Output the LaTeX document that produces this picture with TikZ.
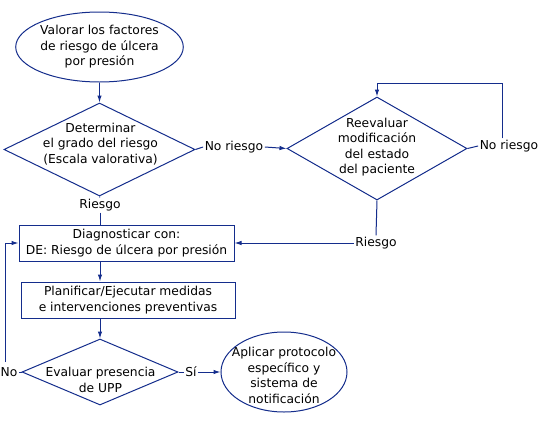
\documentclass[tikz,border=0pt]{standalone}
\usepackage{fontspec}
\setmainfont{DejaVu Sans}
\usetikzlibrary{shapes.geometric,arrows.meta}
\definecolor{navy}{RGB}{20,45,140}
\tikzset{
  every node/.style={font=\fontsize{12.3}{15.5}\selectfont, align=center, inner sep=0pt},
  line/.style={draw=navy, line width=1pt},
  arr/.style={line, -{Latex[length=7pt,width=4.5pt]}},
  oval/.style={ellipse, line},
  rombo/.style={diamond, line},
  caja/.style={rectangle, line},
  lbl/.style={inner sep=1.5pt}
}
\begin{document}
\begin{tikzpicture}[x=1pt,y=-1pt]
\useasboundingbox[fill=white] (0,0) rectangle (550,424);
% shapes
\node[oval, minimum width=161pt, minimum height=70pt] (e1) at (99.5,47) {Valorar los factores\\de riesgo de úlcera\\por presión};
\node[rombo, minimum width=191pt, minimum height=93pt] (d1) at (99.5,149.5) {};
\node (t1) at (100.5,144) {Determinar\\el grado del riesgo\\(Escala valorativa)};
\node[rombo, minimum width=180pt, minimum height=103pt] (d2) at (377,148.5) {};
\node (t2) at (377,147) {Reevaluar\\modificación\\del estado\\del paciente};
\node[caja, minimum width=215pt, minimum height=36pt] (r1) at (126.5,243) {Diagnosticar con:\\DE: Riesgo de úlcera por presión};
\node[caja, minimum width=214pt, minimum height=36pt] (r2) at (128,300) {Planificar/Ejecutar medidas\\e intervenciones preventivas};
\node[rombo, minimum width=156pt, minimum height=66pt] (d3) at (100,372) {};
\node (t3) at (100.5,380) {Evaluar presencia\\de UPP};
\node[oval, minimum width=126pt, minimum height=80pt] (e2) at (284,372) {};
\node (t4) at (284,375.5) {Aplicar protocolo\\específico y\\sistema de\\notificación};
% labels
\node[lbl] (lnr1) at (234,147) {No riesgo};
\node[lbl] (lr1) at (100,205) {Riesgo};
\node[lbl] (lnr2) at (509,146) {No riesgo};
\node[lbl] (lr2) at (376,243) {Riesgo};
\node[lbl] (lno) at (9,372) {No};
\node[lbl] (lsi) at (191,372) {Sí};
% helper coordinates
\coordinate (cloop) at (502,83);
\coordinate (cno) at (5,362);
\coordinate (xa) at (100,0);
% connectors
\draw[arr] (e1) -- (d1);
\draw[line] (d1.east) -- (lnr1.west);
\draw[arr] (lnr1.east) -- (d2.west);
\draw[line] (d1.south) -- (lr1.north);
\draw[line] (lr1.south) -- (lr1.south |- r1.north);
\draw[line] (d2.east) -- (lnr2.west);
\draw[arr] (lnr2.north -| cloop) -- (cloop) -| (d2.north);
\draw[line] (d2.south) -- (lr2.north);
\draw[arr] (lr2.west) -- (r1.east);
\draw[arr] (r1.south -| xa) -- (r2.north -| xa);
\draw[arr] (r2.south -| xa) -- (d3.north);
\draw[line] (d3.west) -- (lno.east);
\draw[arr] (cno) |- (r1.west);
\draw[line] (d3.east) -- (lsi.west);
\draw[arr] (lsi.east) -- (e2.west);
\end{tikzpicture}
\end{document}
